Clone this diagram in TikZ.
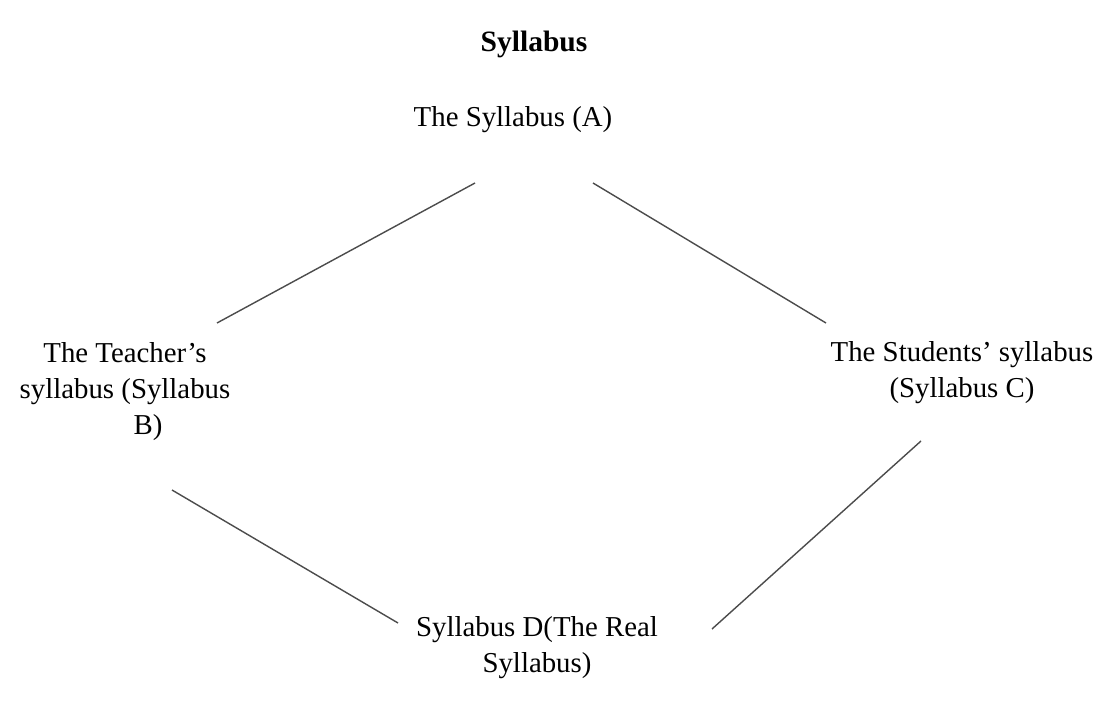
\documentclass[tikz,border=0pt]{standalone}
\usepackage{fontspec}
\setmainfont{Liberation Serif}
\usepackage{tikz}
\usetikzlibrary{positioning}

\begin{document}
\begin{tikzpicture}[
    x=0.025cm, y=-0.025cm,
    font=\fontsize{20.5}{25.6}\selectfont,
    label/.style={align=center, inner sep=0pt},
    link/.style={line width=1pt, draw=black!70}
]
\useasboundingbox (0,0) rectangle (1114,716);
\node[label, font=\fontsize{21}{26}\selectfont\bfseries] (title) at (534,44) {Syllabus};
\node[label] (syla) at (513,120) {The Syllabus (A)};
\node[label] (sylb) at (125,392) {The Teacher’s\\syllabus (Syllabus\\\hspace*{1.6em}B)};
\node[label] (sylc) at (962,373) {The Students’ syllabus\\(Syllabus C)};
\node[label] (syld) at (537,648) {Syllabus D(The Real\\Syllabus)};

% free line ends near each box
\coordinate (ab1) at (475,183);
\coordinate (ab2) at (217,323);
\coordinate (ac1) at (593,183);
\coordinate (ac2) at (826,323);
\coordinate (bd1) at (172,490);
\coordinate (bd2) at (398,623);
\coordinate (cd1) at (921,441);
\coordinate (cd2) at (712,629);

\draw[link] (ab1) -- (ab2);
\draw[link] (ac1) -- (ac2);
\draw[link] (bd1) -- (bd2);
\draw[link] (cd1) -- (cd2);
\end{tikzpicture}
\end{document}
